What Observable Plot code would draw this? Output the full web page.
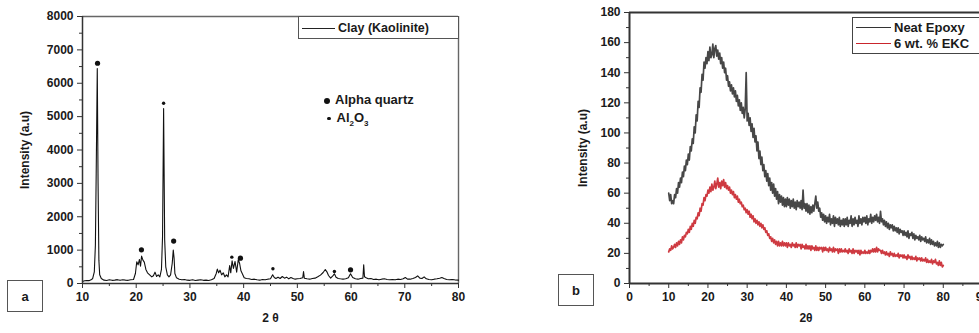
<!DOCTYPE html>
<html><head><meta charset="utf-8">
<script src="https://cdn.jsdelivr.net/npm/d3@7"></script>
<script src="https://cdn.jsdelivr.net/npm/@observablehq/plot@0.6"></script>
<style>
body{margin:0;background:#fff;overflow:hidden;}
#wrap{position:relative;width:979px;height:333px;overflow:hidden;font-family:"Liberation Sans",Arial,sans-serif;color:#1a1a1a;}
#wrap svg{position:absolute;top:0;}
.box{position:absolute;border:1px solid #555;background:#fff;font-weight:bold;box-sizing:border-box;}
.tag{display:flex;align-items:center;justify-content:center;font-size:13px;}
.leg{font-size:12.5px;white-space:nowrap;}
.row{position:absolute;left:0;display:flex;align-items:center;}
.sw{display:inline-block;width:35px;height:0;border-top:1.3px solid #222;margin:0 3px 0 3px;}
.ann{position:absolute;font-size:13px;font-weight:bold;white-space:nowrap;}
.mk{display:inline-block;border-radius:50%;background:#111;vertical-align:middle;}
</style></head><body><div id="wrap"></div>
<script>
// ---------- Panel (a): Clay (Kaolinite) XRD ----------
const aTheta = [10.0,10.4,10.8,11.2,11.6,11.9,12.2,12.4,12.55,12.75,12.9,13.05,13.2,13.5,14.0,14.5,15.0,15.5,16.0,16.5,17.0,17.5,18.0,18.5,19.0,19.5,19.85,20.1,20.35,20.6,20.8,21.0,21.25,21.5,21.8,22.1,22.5,22.9,23.2,23.5,23.8,24.1,24.4,24.7,24.9,25.1,25.3,25.5,25.8,26.1,26.4,26.7,26.9,27.05,27.2,27.5,28.0,28.5,29.0,29.5,30.0,30.5,31.0,31.5,32.0,32.5,33.0,33.5,34.0,34.5,34.9,35.1,35.35,35.6,35.9,36.2,36.5,36.8,37.1,37.4,37.6,37.85,38.1,38.4,38.7,39.0,39.25,39.5,39.8,40.1,40.5,41.0,41.5,42.0,42.5,43.0,43.5,44.0,44.5,45.0,45.4,45.7,46.0,46.4,46.8,47.2,47.6,48.0,48.4,48.8,49.2,49.6,50.0,50.5,51.0,51.15,51.3,51.8,52.3,52.8,53.3,53.8,54.3,54.8,55.2,55.5,55.8,56.2,56.6,56.9,57.2,57.6,58.0,58.5,59.0,59.5,59.9,60.3,60.8,61.3,61.8,62.2,62.35,62.5,62.8,63.2,63.7,64.2,64.7,65.2,65.7,66.2,66.7,67.2,67.7,68.2,68.7,69.2,69.7,70.1,70.5,71.0,71.5,72.0,72.4,72.8,73.2,73.6,74.0,74.5,75.0,75.5,76.0,76.5,76.9,77.3,77.8,78.3,78.8,79.3,80.0];
const aIntensity = [60,80,90,85,110,150,350,1150,3300,6440,3000,700,260,150,100,90,110,95,100,115,95,110,100,95,110,120,300,650,560,720,520,820,700,640,420,320,260,200,230,340,210,260,200,420,1400,5240,1300,500,260,200,260,600,1000,760,300,170,130,110,120,100,95,110,90,100,110,95,100,90,110,150,300,430,320,400,260,320,200,260,200,540,320,680,450,660,340,720,600,380,280,170,150,140,120,130,110,100,120,110,130,140,260,180,150,190,150,210,160,190,140,180,150,130,140,150,170,360,160,140,130,150,160,200,250,330,420,350,240,160,230,290,190,150,140,130,140,170,290,180,140,130,150,160,560,200,170,140,150,120,130,110,130,140,120,110,120,110,130,120,140,180,130,130,150,180,230,160,150,200,140,120,110,130,140,160,180,150,120,110,120,110,100];
const quartzTheta = [12.8, 20.97, 26.97, 39.4, 59.9];
const quartzIntensity = [6600, 1010, 1270, 760, 410];
const aluminaTheta = [25.1, 37.8, 45.45, 56.9];
const aluminaIntensity = [5400, 790, 440, 360];
const aXTicks = [10,20,30,40,50,60,70,80];
const aXMinor = [15,25,35,45,55,65,75];
const aYTicks = [0,1000,2000,3000,4000,5000,6000,7000,8000];
const aYMinor = [500,1500,2500,3500,4500,5500,6500,7500];

// ---------- Panel (b): Neat Epoxy vs 6 wt.% EKC ----------
const bStart = 10, bStep = 0.25;
const neatEpoxy = [
60,55,59,53,55,53,59,57,63,60,67,64,70,67,74,71,78,75,82,79,
86,82,91,88,96,93,104,100,112,108,121,117,130,127,139,135,147,143,150,146,
154,148,157,150,152,159,150,156,158,151,155,149,153,146,150,143,147,140,143,135,
138,131,134,128,132,126,130,124,128,121,125,118,122,115,120,113,117,110,116,140,
108,113,105,110,101,106,97,103,94,98,88,94,83,88,79,84,75,79,71,75,
68,73,65,70,62,67,60,66,58,63,56,61,53,59,54,58,52,57,51,56,
51,57,52,56,50,55,51,56,50,54,49,55,51,54,50,55,49,62,50,53,
48,53,47,52,46,51,47,52,48,53,58,50,54,48,50,44,47,42,46,41,
45,40,44,41,46,39,43,40,45,38,44,40,43,39,44,38,42,39,43,38,
43,39,44,38,42,40,45,38,43,39,44,40,42,38,45,40,43,39,44,41,
44,40,45,39,43,41,46,40,44,41,45,42,46,41,44,40,48,41,43,39,
42,38,41,37,40,36,39,37,39,35,38,35,37,34,37,33,36,34,35,32,
35,32,34,31,35,30,33,32,34,30,33,29,32,30,31,29,32,28,31,29,
30,28,31,27,29,27,30,26,29,26,28,25,27,25,28,24,27,24,26,25,
26];
const ekc6 = [
21,23,22,25,23,24,26,24,27,25,28,26,29,27,31,29,32,31,34,33,
36,34,38,36,40,38,42,40,44,43,47,45,50,48,53,52,57,55,59,58,
62,60,64,61,66,62,64,68,63,66,70,64,67,63,68,65,69,64,67,63,
65,62,64,60,62,59,61,57,59,56,58,54,56,53,54,51,52,49,50,47,
49,46,48,44,46,43,45,41,43,40,42,39,41,38,40,37,39,36,37,34,
35,32,33,30,31,28,30,27,29,26,28,25,28,25,27,25,28,25,27,25,
27,24,27,25,26,24,27,25,26,24,27,24,26,25,26,23,26,24,25,23,
26,23,25,23,25,22,25,23,24,22,25,22,24,22,24,23,24,21,24,22,
24,22,23,21,24,22,23,21,24,21,23,22,23,20,23,21,23,21,22,21,
23,21,22,20,23,21,22,20,23,20,22,21,22,20,22,19,22,20,21,20,
22,20,21,20,22,20,22,21,23,21,23,21,24,21,23,22,22,20,22,20,
21,19,21,19,20,18,21,19,20,18,20,18,19,18,20,17,19,18,19,17,
19,17,18,16,19,17,18,16,18,16,17,16,18,15,17,16,17,15,17,15,
16,15,17,14,16,14,15,14,16,13,15,14,16,13,14,12,15,12,14,11,
12];
const bXTicks = [0,10,20,30,40,50,60,70,80,90];
const bXMinor = [5,15,25,35,45,55,65,75,85];
const bYTicks = [0,20,40,60,80,100,120,140,160,180];
const bYMinor = [10,30,50,70,90,110,130,150,170];

// ---------- build ----------
const wrap = document.getElementById("wrap");
const baseStyle = {fontFamily:'"Liberation Sans", Arial, sans-serif', fontSize:"12px", fontWeight:"bold", color:"#1a1a1a", background:"transparent", overflow:"visible"};
const intFmt = d3.format("d");

const aData = aTheta.map((t,i)=>({t, v:aIntensity[i]}));
const qData = quartzTheta.map((t,i)=>({t, v:quartzIntensity[i]}));
const alData = aluminaTheta.map((t,i)=>({t, v:aluminaIntensity[i]}));
const blank = () => "";

const plotA = Plot.plot({
  width:470, height:333, marginLeft:82, marginRight:12, marginTop:16, marginBottom:50,
  style: baseStyle,
  x:{domain:[10,80]}, y:{domain:[0,8000]},
  marks:[
    Plot.ruleY([8000],{stroke:"#666", strokeWidth:1.4}),
    Plot.ruleX([80],{stroke:"#666", strokeWidth:1.4}),
    Plot.line(aData,{x:"t", y:"v", stroke:"#111", strokeWidth:1.1}),
    Plot.dot(qData,{x:"t", y:"v", r:2.6, fill:"#111", stroke:"none"}),
    Plot.dot(alData,{x:"t", y:"v", r:1.7, fill:"#111", stroke:"none"}),
    Plot.ruleX([10],{stroke:"#333", strokeWidth:1.5}),
    Plot.ruleY([0],{stroke:"#333", strokeWidth:1.5}),
    Plot.axisY({ticks:aYTicks, tickFormat:intFmt, tickSize:5, tickPadding:4, stroke:"#333", label:"Intensity (a.u)", labelAnchor:"center", labelOffset:62, labelArrow:"none"}),
    Plot.axisY({ticks:aYMinor, tickSize:3, tickFormat:blank, stroke:"#333", label:null}),
    Plot.axisX({ticks:aXTicks, tickFormat:intFmt, tickSize:5, tickPadding:4, stroke:"#333", label:"2 θ", labelAnchor:"center", labelOffset:38, labelArrow:"none"}),
    Plot.axisX({ticks:aXMinor, tickSize:3, tickFormat:blank, stroke:"#333", label:null})
  ]
});
plotA.style.left = "0px";
wrap.appendChild(plotA);

const bData = [];
neatEpoxy.forEach((v,i)=>bData.push({t:bStart+i*bStep, v, s:"Neat Epoxy"}));
ekc6.forEach((v,i)=>bData.push({t:bStart+i*bStep, v, s:"6 wt. % EKC"}));

const plotB = Plot.plot({
  width:460, height:333, marginLeft:89, marginRight:18, marginTop:12, marginBottom:50,
  style: baseStyle,
  x:{domain:[0,90]}, y:{domain:[0,180]},
  color:{domain:["Neat Epoxy","6 wt. % EKC"], range:["#333333","#c9252c"]},
  marks:[
    Plot.ruleY([180],{stroke:"#333", strokeWidth:2}),
    Plot.line(bData,{x:"t", y:"v", z:"s", stroke:"s", strokeWidth:1.7, strokeOpacity:0.9}),
    Plot.ruleX([0],{stroke:"#333", strokeWidth:2}),
    Plot.ruleY([0],{stroke:"#333", strokeWidth:2}),
    Plot.axisY({ticks:bYTicks, tickFormat:intFmt, tickSize:5, tickPadding:4, stroke:"#333", label:"Intensity (a.u)", labelAnchor:"center", labelOffset:51, labelArrow:"none"}),
    Plot.axisY({ticks:bYMinor, tickSize:3, tickFormat:blank, stroke:"#333", label:null}),
    Plot.axisX({ticks:bXTicks, tickFormat:intFmt, tickSize:5, tickPadding:4, stroke:"#333", label:"2θ", labelAnchor:"center", labelOffset:38, labelArrow:"none"}),
    Plot.axisX({ticks:bXMinor, tickSize:3, tickFormat:blank, stroke:"#333", label:null})
  ]
});
plotB.style.left = "540px";
wrap.appendChild(plotB);

// ---------- overlays: legends and panel tags ----------
function el(html){const d=document.createElement("div");d.innerHTML=html;const n=d.firstElementChild;wrap.appendChild(n);return n;}
el('<div class="box tag" style="left:7px;top:280px;width:36px;height:32px;">a</div>');
el('<div class="box tag" style="left:558px;top:274px;width:36px;height:32px;">b</div>');
el('<div class="box leg" style="left:298px;top:16px;width:161px;height:23px;"><div class="row" style="top:4px;"><span class="sw" style="width:33px"></span>Clay (Kaolinite)</div></div>');
el('<div class="box leg" style="left:852px;top:17px;width:140px;height:37px;border-color:#444;font-size:13px;"><div class="row" style="top:2px;"><span class="sw" style="border-color:#333"></span>Neat Epoxy</div><div class="row" style="top:18px;"><span class="sw" style="border-color:#c9252c"></span>6 wt. % EKC</div></div>');
el('<div class="ann" style="left:324px;top:92px;"><span class="mk" style="width:6px;height:6px;margin-right:5px;"></span>Alpha quartz</div>');
el('<div class="ann" style="left:327px;top:110px;"><span class="mk" style="width:3.5px;height:3.5px;margin-right:6px;"></span>Al<sub style="font-size:8px">2</sub>O<sub style="font-size:8px">3</sub></div>');
</script></body></html>
